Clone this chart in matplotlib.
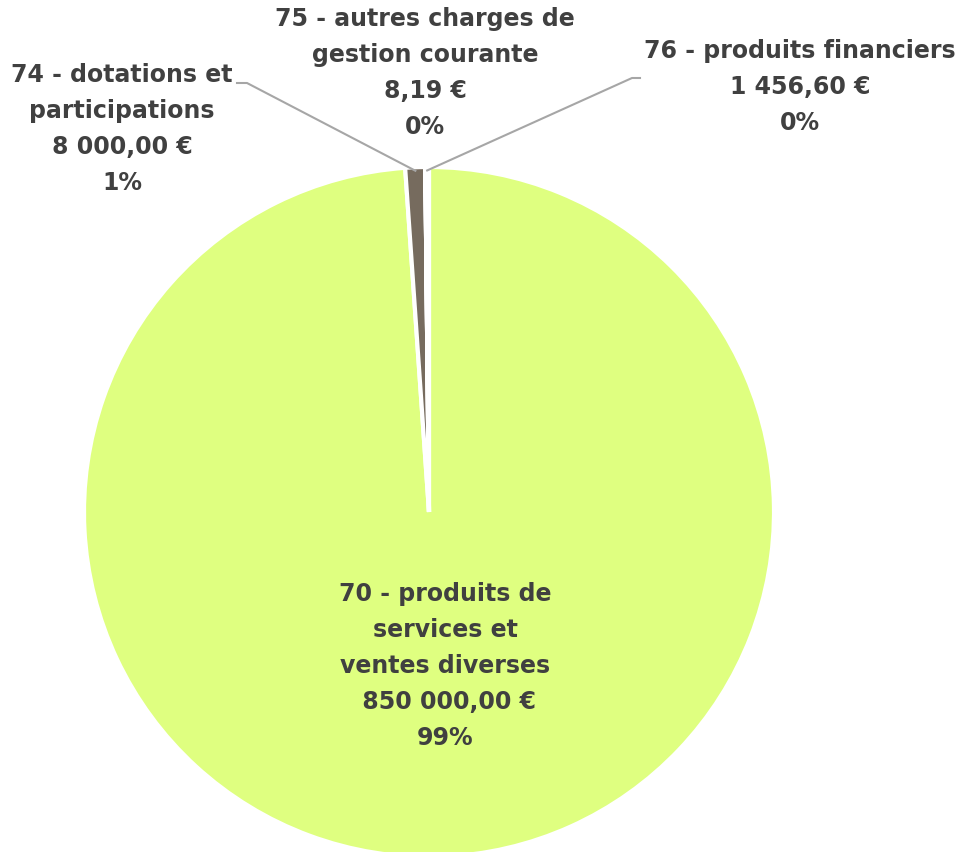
import numpy as np
import matplotlib
matplotlib.use("Agg")
import matplotlib.pyplot as plt

# chart data
categories = ["70 - produits de\nservices et\nventes diverses",
              "74 - dotations et\nparticipations",
              "75 - autres charges de\ngestion courante",
              "76 - produits financiers"]
amounts = [850000.00, 8000.00, 8.19, 1456.60]
amount_labels = [" 850 000,00 €", "8 000,00 €", "8,19 €", "1 456,60 €"]
pct_labels = ["99%", "1%", "0%", "0%"]
colors = ["#dfff80", "#766b5e", "#f2f2f2", "#ffffff"]

W, H, R = 959, 852, 345.0
cx, cy = 429, 512

def px(x, y):
    # pixel coords (from top-left) -> data units where pie radius = 1
    return ((x - cx) / R, (cy - y) / R)

fig = plt.figure(figsize=(W / 100, H / 100), dpi=100)
ax = fig.add_axes([0, 0, 1, 1])
ax.axis("off")

wedges, _ = ax.pie(amounts, colors=colors, startangle=90, counterclock=False,
                   radius=1.0, wedgeprops=dict(edgecolor="white", linewidth=3))
ax.set_xlim(-cx / R, (W - cx) / R)
ax.set_ylim(-(H - cy) / R, cy / R)
ax.set_aspect("auto")

txt_color = "#404040"
font = dict(fontsize=17, fontweight="bold", color=txt_color, family="DejaVu Sans",
            ha="center", va="center", linespacing=1.63)

label_pos = [(445, 666), (122, 129), (425, 73), (800, 87)]
texts = [f"{c}\n{a}\n{p}" for c, a, p in zip(categories, amount_labels, pct_labels)]

for i, (t, pos) in enumerate(zip(texts, label_pos)):
    ax.text(*px(*pos), t, **font)

# leader lines for the small slices
def edge_point(w):
    ang = np.deg2rad((w.theta1 + w.theta2) / 2)
    return np.cos(ang) * 0.99, np.sin(ang) * 0.99

line_kw = dict(color="#a6a6a6", linewidth=1.5)
x0, y0 = edge_point(wedges[1])
ax.plot([px(237, 83)[0], px(247, 83)[0], x0], [px(237, 83)[1], px(247, 83)[1], y0], **line_kw)
x3, y3 = edge_point(wedges[3])
ax.plot([px(640, 78)[0], px(632, 78)[0], x3], [px(640, 78)[1], px(632, 78)[1], y3], **line_kw)

fig.savefig("out.png", dpi=100)
